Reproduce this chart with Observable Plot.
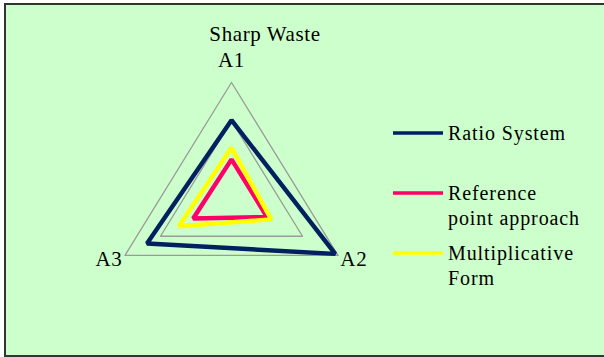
<!DOCTYPE html>
<html>
<head>
<meta charset="utf-8">
<script src="https://cdn.jsdelivr.net/npm/d3@7"></script>
<script src="https://cdn.jsdelivr.net/npm/@observablehq/plot@0.6"></script>
<style>
  html, body { margin: 0; padding: 0; background: #ffffff; overflow: hidden; }
  #wrap { position: relative; width: 604px; height: 357px; overflow: hidden; font-family: "Liberation Serif", "DejaVu Serif", serif; color: #000; }
  #box { position: absolute; left: 4px; top: 3px; width: 620px; height: 350px; background: #ccffcc; border: 2px solid #333; }
  #chart { position: absolute; left: 0; top: 0; }
  #chart text { letter-spacing: 0.8px; }
  #title { position: absolute; left: 0; width: 530px; top: 22px; text-align: center; font-size: 21px; line-height: 24px; letter-spacing: 0.6px; }
  .leg { position: absolute; left: 393px; display: flex; align-items: flex-start; }
  .leg svg { flex: none; }
  .leg span { font-size: 20px; line-height: 25px; margin-left: 5px; letter-spacing: 0.9px; }
</style>
</head>
<body>
<div id="wrap">
  <div id="box"></div>
  <div id="title">Sharp Waste</div>
  <div id="chart"></div>
  <div id="legend"></div>
</div>
<script>
// ---- data ----
const axes = ["A1", "A2", "A3"];
const seriesNames = ["Ratio System", "Reference point approach", "Multiplicative Form"];
const seriesLegendLines = [["Ratio System"], ["Reference", "point approach"], ["Multiplicative", "Form"]];
const ratioSystem = [0.101, 0.146, 0.119];
const referencePoint = [0.050, 0.050, 0.054];
const multiplicative = [0.065, 0.056, 0.074];
const gridLevels = [0.05, 0.10, 0.15];
const maxValue = 0.15;
const colors = ["#002060", "#ff0066", "#ffff00"];

const seriesValues = [ratioSystem, referencePoint, multiplicative];

// polar -> cartesian (unit coordinates)
function pos(i, v) {
  const a = (2 * Math.PI * i) / axes.length;
  const u = v / maxValue;
  return {x: u * Math.sin(a), y: u * Math.cos(a)};
}

const gridData = [];
gridLevels.forEach(l => axes.forEach((ax, i) => gridData.push({level: l, axis: ax, ...pos(i, l)})));

const lineData = [];
seriesNames.forEach((s, k) => axes.forEach((ax, i) => lineData.push({series: s, axis: ax, value: seriesValues[k][i], ...pos(i, seriesValues[k][i])})));

const labelData = axes.map((ax, i) => ({axis: ax, ...pos(i, maxValue * 1.15)}));

const cx = 231, cy = 197.3, kx = 123, ky = 115.3;

const plot = Plot.plot({
  width: 604,
  height: 357,
  margin: 0,
  style: {background: "transparent", fontFamily: "'Liberation Serif', serif", overflow: "visible"},
  x: {domain: [-1, 1], range: [cx - kx, cx + kx], axis: null},
  y: {domain: [-1, 1], range: [cy + ky, cy - ky], axis: null},
  color: {domain: seriesNames, range: colors},
  marks: [
    Plot.line(gridData, {x: "x", y: "y", z: "level", curve: "linear-closed", stroke: "#9a9a9a", strokeWidth: 1.3}),
    Plot.line(lineData, {x: "x", y: "y", z: "series", stroke: "series", curve: "linear-closed", strokeWidth: 4.4, strokeLinejoin: "miter"}),
    Plot.text(labelData, {x: "x", y: "y", text: "axis", fontSize: 21, fill: "#000", dy: -5})
  ]
});
document.getElementById("chart").appendChild(plot);

// legend
const legendTops = [121, 181, 241];
const legend = document.getElementById("legend");
seriesNames.forEach((s, k) => {
  const d = document.createElement("div");
  d.className = "leg";
  d.style.top = legendTops[k] + "px";
  d.innerHTML = `<svg width="50" height="25"><line x1="0" x2="50" y1="12" y2="12" stroke="${colors[k]}" stroke-width="3.5"/></svg><span>${seriesLegendLines[k].join("<br>")}</span>`;
  legend.appendChild(d);
});
</script>
</body>
</html>
